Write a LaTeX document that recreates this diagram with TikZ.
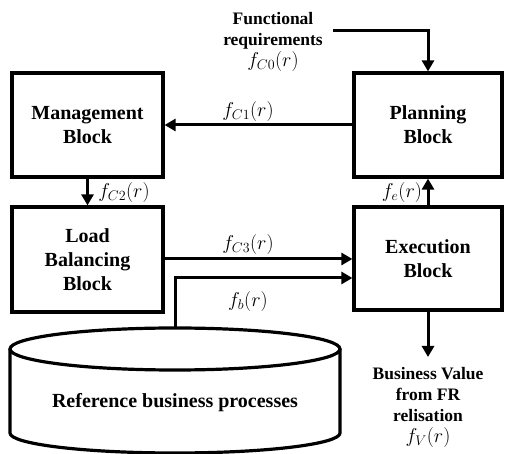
\RequirePackage{fix-cm}
\documentclass[tikz,border=0pt]{standalone}
\usepackage{fontspec}
\setmainfont{Liberation Serif}
\usetikzlibrary{arrows.meta}
\tikzset{
  blockbox/.style={draw, line width=3.2pt, align=center, font=\bfseries\fontsize{20}{24}\selectfont, inner sep=0pt},
  arr/.style={line width=3pt, -{Triangle[length=11pt,width=12pt]}},
  lbl/.style={font=\fontsize{20}{22}\selectfont, inner sep=0pt},
  note/.style={align=center, font=\bfseries\fontsize{17.5}{21}\selectfont, inner sep=0pt}
}
\begin{document}
\begin{tikzpicture}[x=1pt,y=1pt]
\useasboundingbox (0,0) rectangle (505,454);
\node[blockbox, minimum width=151pt, minimum height=104pt] (mgmt) at (87.5,329) {Management\\Block};
\node[blockbox, minimum width=148pt, minimum height=104pt] (plan) at (428,329) {Planning\\Block};
\node[blockbox, minimum width=151pt, minimum height=105pt] (load) at (87.5,194.5) {Load\\Balancing\\Block};
\node[blockbox, minimum width=148pt, minimum height=103pt] (exec) at (428,195.5) {Execution\\Block};
% cylinder
\draw[line width=3.2pt] (175,105) ellipse [x radius=165pt, y radius=21pt];
\draw[line width=3.2pt] (10,105) -- (10,21) arc [start angle=180, end angle=360, x radius=165pt, y radius=20pt] -- (340,105);
\node[font=\bfseries\fontsize{20}{24}\selectfont, inner sep=0pt] (ref) at (175,51) {Reference business processes};
\coordinate (cyltop) at (175,126);
% texts
\node[note] (fr) at (273,412) {Functional\\requirements\\{\mdseries\fontsize{20}{21}\selectfont$f_{C0}(r)$}};
\coordinate (frstart) at (333,423);
\node[note] (bv) at (428,47) {Business Value\\from FR\\relisation\\{\mdseries\fontsize{20}{21}\selectfont$f_{V}(r)$}};
\coordinate (bvend) at (428,97);
% connectors
\draw[arr] (frstart) -| (plan.north);
\draw[arr] (plan.west) -- (mgmt.east);
\draw[arr] (mgmt.south) -- (load.north);
\draw[arr] (exec.north) -- (plan.south);
\draw[arr] (load.east |- 0,195) -- (exec.west |- 0,195);
\draw[arr] (cyltop) |- (exec.west |- 0,176);
\draw[arr] (exec.south) -- (bvend);
% labels
\node[lbl] (l1) at (248,342) {$f_{C1}(r)$};
\node[lbl] (l2) at (124,261) {$f_{C2}(r)$};
\node[lbl] (le) at (402,261) {$f_{e}(r)$};
\node[lbl] (l3) at (248,209) {$f_{C3}(r)$};
\node[lbl] (lb) at (248,152) {$f_{b}(r)$};
\end{tikzpicture}
\end{document}
